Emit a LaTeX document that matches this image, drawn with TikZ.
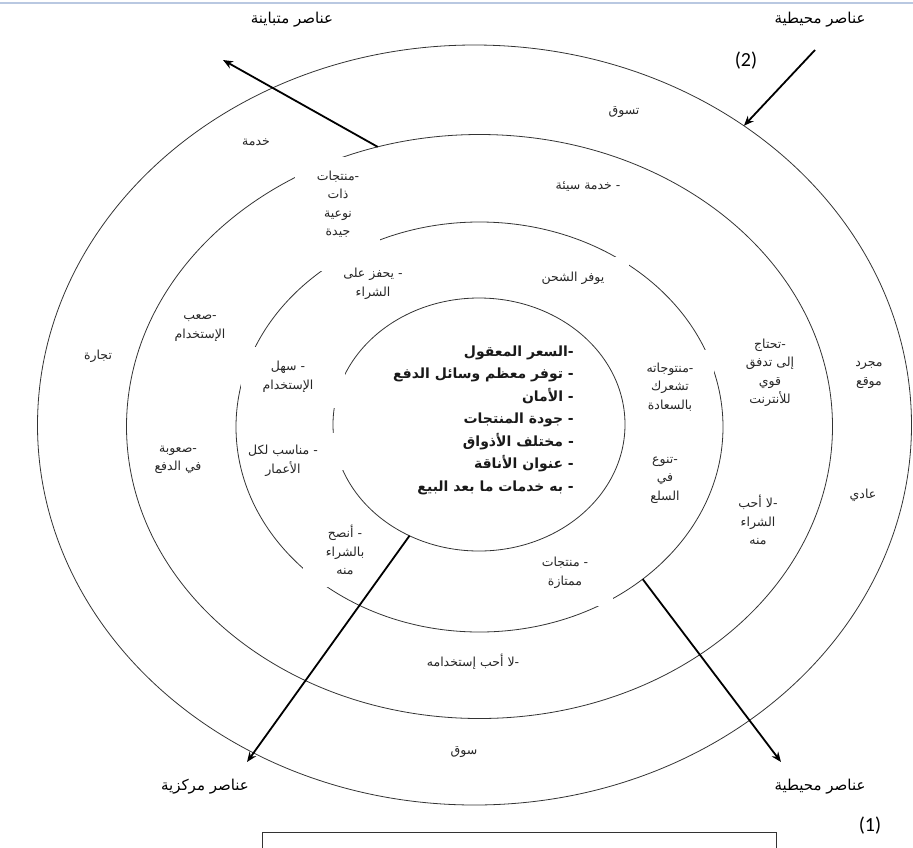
\documentclass[tikz,border=0pt]{standalone}
\usepackage{fontspec}
\usetikzlibrary{shapes.geometric,arrows.meta}
\TeXXeTstate=1
\newfontfamily\arabicfont[Script=Arabic]{DejaVu Sans}
\newfontfamily\numfont{Carlito}
\newcommand{\artxt}[1]{\beginR #1\endR}
\begin{document}
\begin{tikzpicture}[x=1pt,y=-1pt,
  ring/.style={draw=black!80, line width=0.8pt, ellipse, inner sep=0pt, outer sep=0pt},
  lbl/.style={font=\arabicfont\fontsize{12.5}{18.5}\selectfont, align=center, text=black!85, inner sep=1pt},
  corner/.style={font=\arabicfont\fontsize{15}{17}\selectfont, text=black, inner sep=1pt},
  core/.style={font=\arabicfont\bfseries\fontsize{14}{22.5}\selectfont, align=right, text=black!90, inner sep=0pt},
  num/.style={font=\numfont\fontsize{20}{22}\selectfont, inner sep=1pt},
  arr/.style={line width=1.8pt, -{Stealth[length=10pt,width=8pt]}},
  mask/.style={fill=white}]
\useasboundingbox (0,0) rectangle (913,847);
\draw[color={rgb,255:red,185;green,200;blue,225}, line width=1.2pt] (0,3) -- (913,3);

% rings
\node[ring, minimum width=874pt, minimum height=760pt] (outer) at (474.5,425) {};
\node[ring, minimum width=706pt, minimum height=584pt] (second) at (479.5,426.5) {};
\node[ring, minimum width=487pt, minimum height=410pt] (third) at (479.5,427) {};
\node[ring, minimum width=292pt, minimum height=253pt] (inner) at (479,424.5) {};

% white text-box backgrounds that break the rings
\fill[mask] (295,157) rectangle (380,271);
\fill[mask] (241,347) rectangle (345,408);
\fill[mask] (244,433) rectangle (346,470);
\fill[mask] (303,520) rectangle (378,587);
\fill[mask] (540,555) rectangle (613,606);
\fill[mask] (640,350) rectangle (714,420);
\fill[mask] (530,257) rectangle (629,300);

% outer ring
\node[lbl] (t1) at (624,112) {\artxt{تسوق}};
\node[lbl] (t2) at (256,142) {\artxt{خدمة}};
\node[lbl] (t3) at (98,356) {\artxt{تجارة}};
\node[lbl] (t4) at (869,375) {\artxt{مجرد}\\\artxt{موقع}};
\node[lbl] (t5) at (863,495) {\artxt{عادي}};
\node[lbl] (t6) at (464,752) {\artxt{سوق}};

% second ring
\node[lbl] (s1) at (338,204) {\artxt{-منتجات}\\\artxt{ذات}\\\artxt{نوعية}\\\artxt{جيدة}};
\node[lbl] (s2) at (588,187) {\artxt{- خدمة سيئة}};
\node[lbl] (s3) at (200,328) {\artxt{-صعب}\\\artxt{الإستخدام}};
\node[lbl] (s4) at (178,460) {\artxt{-صعوبة}\\\artxt{في الدفع}};
\node[lbl] (s5) at (770,373) {\artxt{-تحتاج}\\\artxt{إلى تدفق}\\\artxt{قوي}\\\artxt{للأنترنت}};
\node[lbl] (s6) at (758,520) {\artxt{-لا أحب}\\\artxt{الشراء}\\\artxt{منه}};
\node[lbl] (s7) at (473,662) {\artxt{-لا أحب إستخدامه}};

% third ring
\node[lbl] (r1) at (373,284) {\artxt{- يحفز على}\\\artxt{الشراء}};
\node[lbl] (r2) at (573,278) {\artxt{يوفر الشحن}};
\node[lbl] (r3) at (288,377) {\artxt{- سهل}\\\artxt{الإستخدام}};
\node[lbl] (r4) at (283,461) {\artxt{- مناسب لكل}\\\artxt{الأعمار}};
\node[lbl] (r5) at (345,550) {\artxt{- أنصح}\\\artxt{بالشراء}\\\artxt{منه}};
\node[lbl] (r6) at (565,573) {\artxt{- منتجات}\\\artxt{ممتازة}};
\node[lbl] (r7) at (670,387) {\artxt{-منتوجاته}\\\artxt{تشعرك}\\\artxt{بالسعادة}};
\node[lbl] (r8) at (665,480) {\artxt{-تنوع}\\\artxt{في}\\\artxt{السلع}};

% core
\node[core, anchor=east] (c) at (574,420) {\artxt{-السعر المعقول}\\\artxt{- توفر معظم وسائل الدفع}\\\artxt{- الأمان}\\\artxt{- جودة المنتجات}\\\artxt{- مختلف الأذواق}\\\artxt{- عنوان الأناقة}\\\artxt{- به خدمات ما بعد البيع}};

% corner labels
\node[corner] (k1) at (292,20) {\artxt{عناصر متباينة}};
\node[corner] (k2) at (820,20) {\artxt{عناصر محيطية}};
\node[corner] (k3) at (205,787) {\artxt{عناصر مركزية}};
\node[corner] (k4) at (820,787) {\artxt{عناصر محيطية}};
\node[num] (n2) at (746,61) {(2)};
\node[num] (n1) at (870,826) {(1)};

% caption box (cut off)
\node[draw=black!80, line width=0.8pt, anchor=north west, minimum width=514pt, minimum height=40pt, inner sep=0pt] (cap) at (262,832) {};

% arrows
\coordinate (tl) at (223,60);
\coordinate (tr) at (815,50);
\coordinate (bl) at (247,762);
\coordinate (br) at (781,762);
\draw[arr] (second.110.3) -- (tl);
\draw[arr] (tr) -- (outer.48.3);
\draw[arr] (inner.238.2) -- (bl);
\draw[arr] (third.317.1) -- (br);
\end{tikzpicture}
\end{document}
